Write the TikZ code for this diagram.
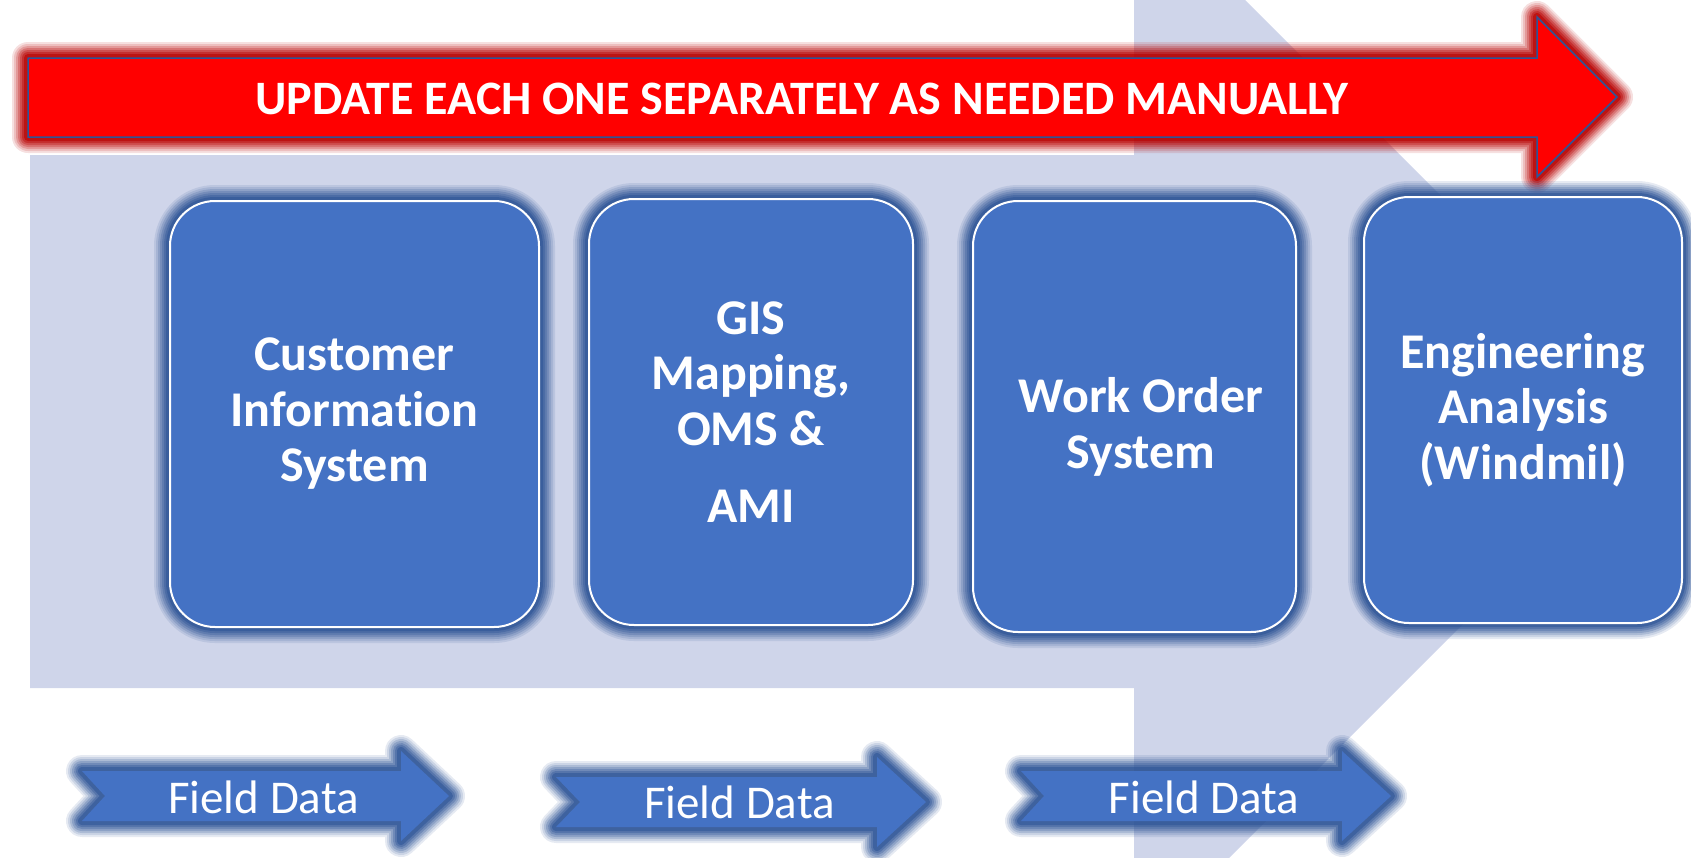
\documentclass[tikz,border=0pt]{standalone}
\usepackage{fontspec}
\setmainfont{Carlito}[Ligatures=NoCommon]
\definecolor{bgblue}{HTML}{CFD5EA}
\definecolor{boxblue}{HTML}{4472C4}
\definecolor{glowblue}{HTML}{2F5597}
\definecolor{glowred}{HTML}{B80000}
\definecolor{redfill}{HTML}{FF0000}
\definecolor{edgeblue}{HTML}{2F5597}
\tikzset{
  glow/.style={
    preaction={draw=#1, line width=32pt, opacity=0.12, line join=round},
    preaction={draw=#1, line width=28pt, opacity=0.15, line join=round},
    preaction={draw=#1, line width=24pt, opacity=0.20, line join=round},
    preaction={draw=#1, line width=20pt, opacity=0.25, line join=round},
    preaction={draw=#1, line width=16pt, opacity=0.30, line join=round},
    preaction={draw=#1, line width=12pt, opacity=0.40, line join=round},
    preaction={draw=#1, line width=8pt, opacity=0.60, line join=round},
  },
  sysbox/.style={draw=white, line width=2pt, fill=boxblue, rounded corners=45pt,
    text=white, align=center, inner sep=0pt, glow=glowblue,
    font=\bfseries\fontsize{50}{55.5}\selectfont},
  fieldarrow/.style={fill=boxblue, glow=glowblue},
  fieldtext/.style={text=white, anchor=base, inner sep=0pt, font=\fontsize{47}{56}\selectfont},
}
\begin{document}
\begin{tikzpicture}[x=1pt,y=-1pt]
\useasboundingbox (0,0) rectangle (1691,857);
% big background arrow
\begin{scope}
  \clip (0,0) rectangle (1691,857);
  \fill[bgblue] (30,155) -- (1134,155) -- (1134,-111) -- (1666,421) -- (1134,953) -- (1134,688) -- (30,688) -- cycle;
\end{scope}
% red banner arrow
\path[glow=glowred, fill=redfill, draw=edgeblue, line width=1.5pt, line join=miter]
  (28,58) -- (1537,58) -- (1537,17) -- (1617,97) -- (1537,177) -- (1537,137) -- (28,137) -- cycle;
\node[text=white, anchor=base, inner sep=0pt, font=\bfseries\fontsize{48}{56}\selectfont] (banner) at (802,114) {UPDATE EACH ONE SEPARATELY AS NEEDED MANUALLY};
% system boxes
\node[sysbox, minimum width=369pt, minimum height=426pt] (cis) at (354.5,414) {Customer\\Information\\System};
\node[sysbox, minimum width=324pt, minimum height=426pt] (gis) at (751,412) {GIS\\Mapping,\\OMS \&\\[22pt]AMI};
\node[sysbox, minimum width=323pt, minimum height=431pt] (wos) at (1134.5,416.5) {};
\node[text=white, align=center, inner sep=0pt, font=\bfseries\fontsize{50}{55.5}\selectfont] (wostext) at (1141,427) {Work Order\\System};
\node[sysbox, minimum width=318pt, minimum height=426pt] (eng) at (1523,410) {Engineering\\Analysis\\(Windmil)};
% field data arrows
\path[fieldarrow] (82,771) -- (401,771) -- (401,751) -- (449,796) -- (401,841) -- (401,821) -- (82,821) -- (105,796) -- cycle;
\node[fieldtext] (fd1) at (263.5,813) {Field Data};
\path[fieldarrow] (556,777) -- (877,777) -- (877,757) -- (926,802) -- (877,847) -- (877,827) -- (556,827) -- (580,802) -- cycle;
\node[fieldtext] (fd2) at (739.5,818) {Field Data};
\path[fieldarrow] (1021,771) -- (1342,771) -- (1342,751) -- (1391,796) -- (1342,841) -- (1342,821) -- (1021,821) -- (1044,796) -- cycle;
\node[fieldtext] (fd3) at (1204,813) {Field Data};
\end{tikzpicture}
\end{document}
